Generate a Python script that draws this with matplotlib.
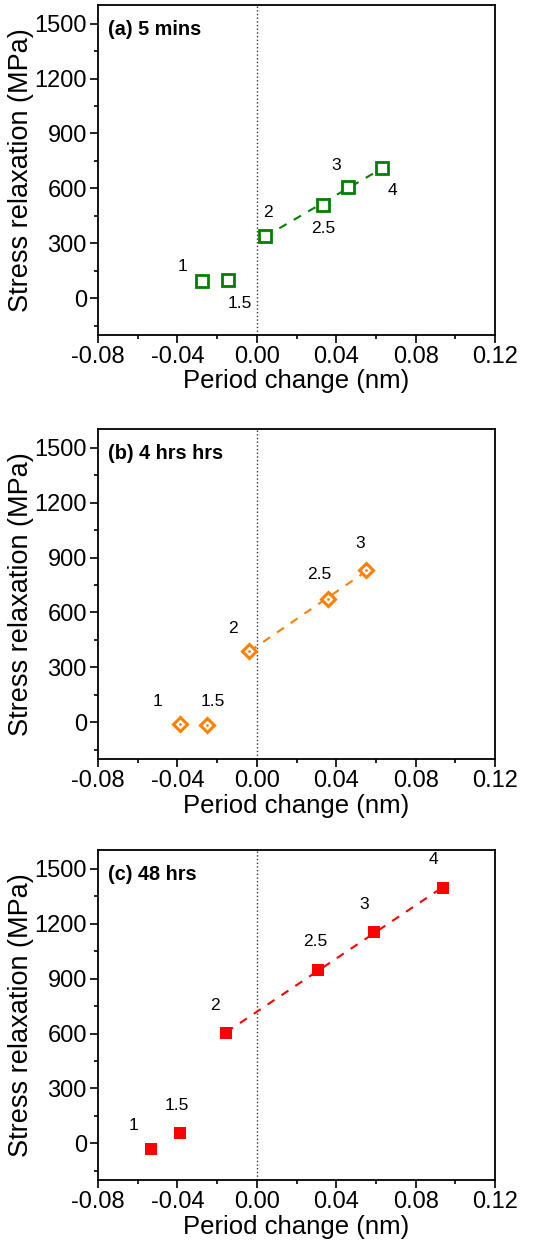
import numpy as np
import matplotlib.pyplot as plt
from matplotlib.ticker import MultipleLocator

plt.rcParams['font.family'] = ['Liberation Sans', 'DejaVu Sans']

# data
labels_a = ['1', '1.5', '2', '2.5', '3', '4']
x_a = [-0.0276, -0.0143, 0.0041, 0.0335, 0.0458, 0.0629]
y_a = [97, 101, 342, 509, 606, 711]

labels_b = ['1', '1.5', '2', '2.5', '3']
x_b = [-0.0388, -0.0250, -0.0037, 0.0357, 0.0551]
y_b = [-9, -13, 391, 671, 831]

labels_c = ['1', '1.5', '2', '2.5', '3', '4']
x_c = [-0.0535, -0.0388, -0.0155, 0.0310, 0.0592, 0.0940]
y_c = [-29, 55, 602, 949, 1153, 1396]

titles = ['(a) 5 mins', '(b) 4 hrs hrs', '(c) 48 hrs']
colors = ['#008000', '#FF8000', '#FF0000']

# label offsets in points (dx, dy) per point
offs_a = [(-14, 10), (8, -17), (2, 17), (0, -17), (-8, 16), (8, -16)]
offs_b = [(-16, 16), (4, 17), (-12, 16), (-6, 18), (-4, 19)]
offs_c = [(-12, 17), (-2, 20), (-8, 20), (-2, 20), (-7, 20), (-7, 20)]

fig = plt.figure(figsize=(5.4, 12.49), dpi=100)
boxes = [(0.1815, 0.7318), (0.1815, 0.3923), (0.1815, 0.0552)]
height = 0.264

series = [
    (x_a, y_a, labels_a, offs_a, dict(marker='s', ms=8, mfc='white', mew=2.0)),
    (x_b, y_b, labels_b, offs_b, dict(marker='D', ms=7.5, mfc='white', mew=2.2)),
    (x_c, y_c, labels_c, offs_c, dict(marker='s', ms=8.5, mew=0)),
]

for i, (xs, ys, labs, offs, mk) in enumerate(series):
    ax = fig.add_axes([boxes[i][0], boxes[i][1], 0.7352, height])
    col = colors[i]
    ax.axvline(0, color='#333333', ls=':', lw=1.0, zorder=1)

    # linear fit over points from "2" onwards
    xf = np.array(xs[2:])
    yf = np.array(ys[2:])
    k, b = np.polyfit(xf, yf, 1)
    xl = np.array([xf.min(), xf.max()])
    ax.plot(xl, k * xl + b, ls=(0, (4, 4)), color=col, lw=1.5, zorder=2)

    ax.plot(xs, ys, ls='none', color=col, mec=col, zorder=3, **mk)
    if i == 1:
        ax.plot(xs, ys, ls='none', marker='.', ms=2, color=col, zorder=4)

    for xv, yv, lab, (dx, dy) in zip(xs, ys, labs, offs):
        ax.annotate(lab, (xv, yv), xytext=(dx, dy), textcoords='offset points',
                    ha='center', va='center', fontsize=12.5)

    ax.text(0.025, 0.955, titles[i], transform=ax.transAxes, fontsize=14.3,
            fontweight='bold', va='top', ha='left')

    ax.set_xlim(-0.08, 0.12)
    ax.set_ylim(-200, 1600)
    ax.xaxis.set_major_locator(MultipleLocator(0.04))
    ax.xaxis.set_minor_locator(MultipleLocator(0.02))
    ax.yaxis.set_major_locator(MultipleLocator(300))
    ax.yaxis.set_minor_locator(MultipleLocator(150))
    ax.set_xticklabels([f'{v:.2f}' for v in ax.get_xticks()])
    ax.tick_params(which='major', direction='out', length=6, width=1.2, labelsize=17,
                   top=False, right=False, pad=2)
    ax.tick_params(which='minor', direction='out', length=3, width=1.2,
                   top=False, right=False)
    for sp in ax.spines.values():
        sp.set_linewidth(1.3)
    ax.set_xlabel('Period change (nm)', fontsize=18.5, labelpad=1)
    ax.set_ylabel('Stress relaxation (MPa)', fontsize=19.5, labelpad=0)

fig.savefig('out.png', dpi=100)
